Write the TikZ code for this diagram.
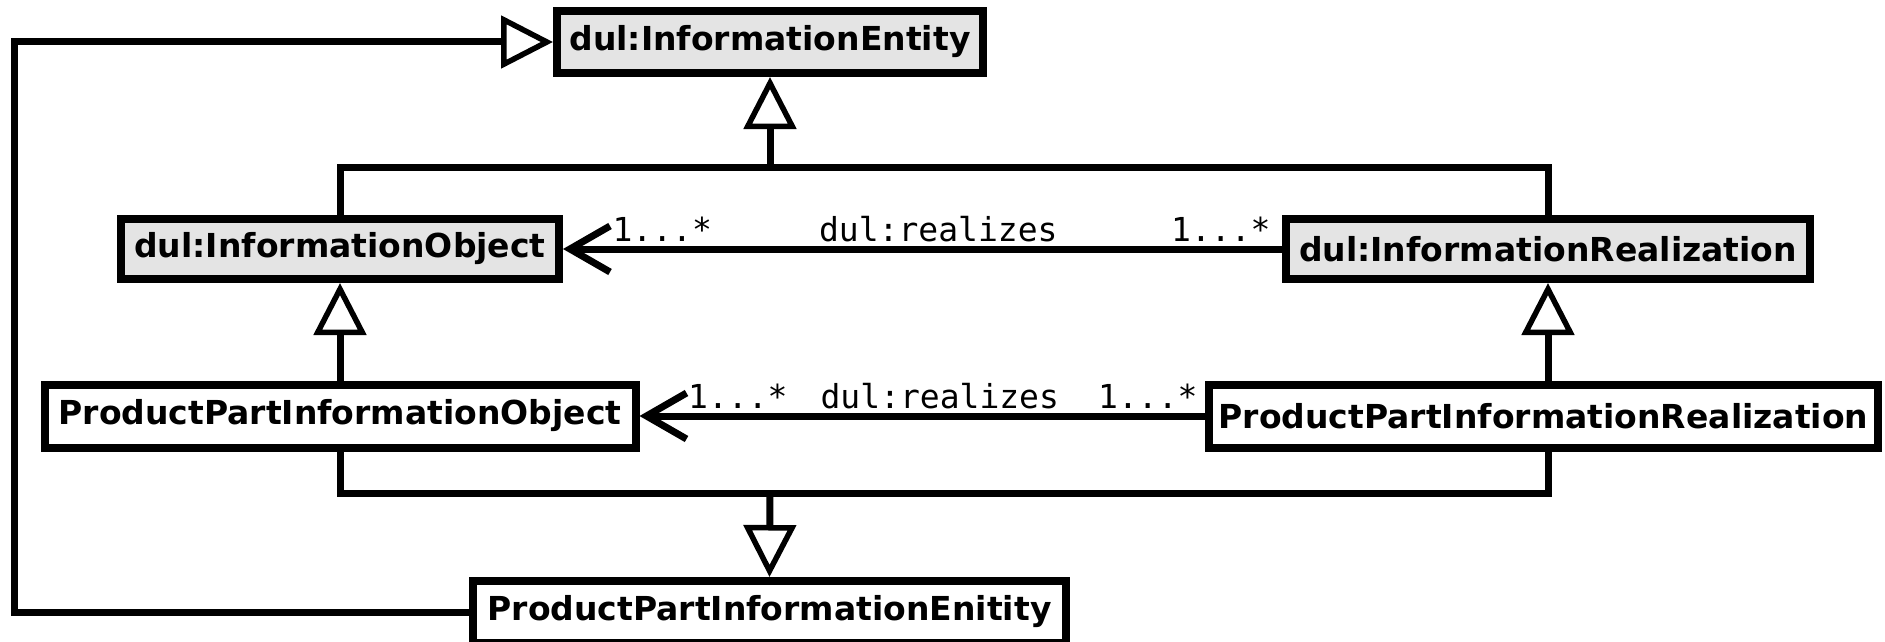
\documentclass[tikz,border=0pt]{standalone}
\usepackage{fontspec}
\setmainfont{DejaVu Sans}
\setmonofont{DejaVu Sans Mono}
\usetikzlibrary{arrows.meta}

\definecolor{classgray}{HTML}{E4E4E4}

\tikzset{
  classbox/.style={draw=black, line width=8pt, inner sep=0pt,
    font=\fontsize{33}{40}\selectfont\bfseries, text=black},
  graybox/.style={classbox, fill=classgray},
  whitebox/.style={classbox, fill=white},
  link/.style={draw=black, line width=7pt},
  gen/.style={link, -{Triangle[open, length=52pt, width=52pt, line width=5.5pt]}},
  assoc/.style={link, -{Straight Barb[length=40pt, width=46pt]}},
  mult/.style={font=\fontsize{33}{40}\selectfont\ttfamily, anchor=base,
    inner sep=0pt, yshift=8pt}
}

\begin{document}
\begin{tikzpicture}[x=1pt, y=-1pt]
  \useasboundingbox (0,0) rectangle (1885,642);
  \clip (0,0) rectangle (1885,642);

  % classes
  \node[graybox, minimum width=426pt, minimum height=62pt] (IE) at (770,42) {dul:InformationEntity};
  \node[graybox, minimum width=438pt, minimum height=60pt] (IO) at (340,249) {dul:InformationObject};
  \node[graybox, minimum width=524pt, minimum height=60pt] (IR) at (1548,249) {dul:InformationRealization};
  \node[whitebox, minimum width=591pt, minimum height=63pt] (PPIO) at (340,416) {ProductPartInformationObject};
  \node[whitebox, minimum width=669pt, minimum height=63pt] (PPIR) at (1543.5,416) {ProductPartInformationRealization};
  \node[whitebox, minimum width=593pt, minimum height=62pt] (PPIE) at (769.5,612) {ProductPartInformationEnitity};

  % junction points of the generalization buses
  \coordinate (jt) at (770,167);
  \coordinate (jb) at (770,493);
  \coordinate (lc) at (14,612);

  % generalizations
  \draw[link, line join=miter] (IO.north) |- (jt) -| (IR.north);
  \draw[gen] (jt) -- (IE.south);
  \draw[gen] (PPIO.north) -- (IO.south);
  \draw[gen] (PPIR.north -| IR.south) -- (IR.south);
  \draw[link, line join=miter] (PPIO.south) |- (jb) -| (PPIR.south -| IR.south);
  \draw[gen] (jb) -- (PPIE.north);
  \draw[gen, line join=miter] (PPIE.west) -- (lc) |- (IE.west);

  % associations
  \draw[assoc] (IR.west) -- (IO.east)
    node[mult, pos=0.085] {1...*}
    node[mult, pos=0.478] {dul:realizes}
    node[mult, pos=0.862] {1...*};
  \draw[assoc] (PPIR.west) -- (PPIO.east)
    node[mult, pos=0.101] {1...*}
    node[mult, pos=0.469] {dul:realizes}
    node[mult, pos=0.826] {1...*};
\end{tikzpicture}
\end{document}
